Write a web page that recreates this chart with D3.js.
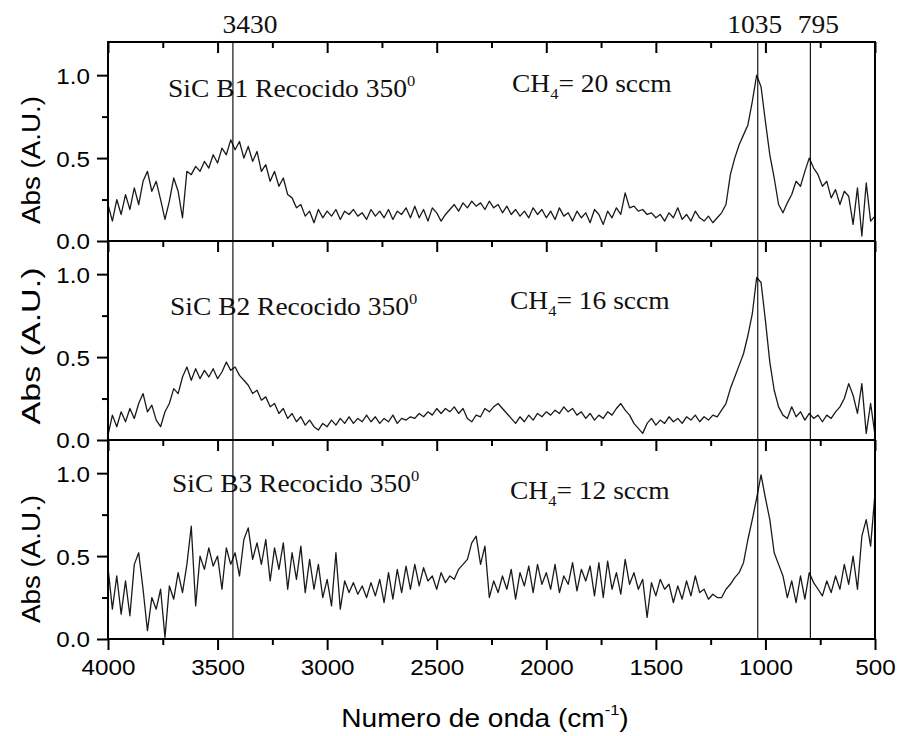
<!DOCTYPE html>
<html><head><meta charset="utf-8">
<script src="https://cdn.jsdelivr.net/npm/d3@7"></script>
<style>body{margin:0;background:#fff}</style>
</head><body>
<script>
// sampling grid of the spectra (cm^-1)
const wavenumbers = d3.range(4000, 499, -20);

const absB1 = [
0.22,0.12,0.25,0.16,0.28,0.19,0.32,0.22,0.36,0.42,
0.30,0.36,0.25,0.13,0.24,0.38,0.30,0.14,0.42,0.40,
0.45,0.42,0.48,0.44,0.52,0.47,0.56,0.52,0.61,0.55,
0.60,0.50,0.57,0.48,0.54,0.42,0.46,0.36,0.42,0.33,
0.38,0.28,0.26,0.20,0.22,0.15,0.18,0.11,0.19,0.14,
0.18,0.15,0.19,0.13,0.18,0.16,0.19,0.15,0.17,0.13,
0.19,0.15,0.18,0.14,0.19,0.13,0.18,0.16,0.20,0.14,
0.21,0.14,0.19,0.12,0.20,0.17,0.12,0.16,0.19,0.22,
0.18,0.23,0.20,0.24,0.21,0.23,0.19,0.24,0.20,0.22,
0.17,0.21,0.16,0.19,0.15,0.18,0.14,0.20,0.16,0.19,
0.14,0.18,0.13,0.20,0.15,0.17,0.12,0.18,0.14,0.17,
0.11,0.19,0.16,0.10,0.18,0.14,0.20,0.16,0.29,0.20,
0.21,0.18,0.19,0.16,0.17,0.14,0.16,0.12,0.17,0.14,
0.20,0.13,0.16,0.12,0.18,0.14,0.12,0.15,0.11,0.14,
0.17,0.22,0.40,0.50,0.58,0.64,0.70,0.84,1.00,0.93,
0.72,0.52,0.38,0.22,0.17,0.23,0.28,0.36,0.33,0.42,
0.50,0.44,0.40,0.33,0.36,0.26,0.31,0.22,0.30,0.27,
0.10,0.32,0.03,0.35,0.12,0.15];

const absB2 = [
0.03,0.15,0.08,0.17,0.11,0.19,0.13,0.22,0.28,0.17,
0.21,0.12,0.08,0.17,0.22,0.31,0.28,0.38,0.44,0.36,
0.43,0.37,0.42,0.38,0.43,0.37,0.41,0.47,0.42,0.44,
0.39,0.36,0.33,0.28,0.30,0.24,0.26,0.20,0.22,0.16,
0.19,0.13,0.16,0.11,0.14,0.09,0.12,0.08,0.06,0.10,
0.08,0.12,0.09,0.13,0.10,0.14,0.10,0.13,0.11,0.15,
0.11,0.14,0.10,0.13,0.11,0.15,0.10,0.13,0.12,0.14,
0.13,0.16,0.14,0.17,0.15,0.19,0.16,0.19,0.17,0.20,
0.16,0.19,0.13,0.11,0.15,0.14,0.19,0.17,0.20,0.22,
0.19,0.16,0.13,0.10,0.14,0.11,0.15,0.12,0.16,0.14,
0.17,0.15,0.18,0.16,0.20,0.17,0.19,0.15,0.17,0.13,
0.16,0.12,0.15,0.13,0.17,0.15,0.19,0.22,0.18,0.15,
0.10,0.07,0.04,0.10,0.13,0.09,0.12,0.10,0.14,0.11,
0.13,0.10,0.14,0.12,0.15,0.11,0.14,0.12,0.15,0.14,
0.18,0.22,0.31,0.38,0.45,0.52,0.63,0.76,0.98,0.95,
0.72,0.47,0.30,0.20,0.15,0.13,0.20,0.14,0.17,0.12,
0.16,0.13,0.15,0.11,0.15,0.13,0.17,0.20,0.25,0.34,
0.27,0.16,0.34,0.04,0.22,0.03];

const absB3 = [
0.43,0.18,0.38,0.15,0.35,0.14,0.45,0.52,0.30,0.05,
0.25,0.18,0.30,0.01,0.32,0.24,0.40,0.28,0.45,0.68,
0.20,0.50,0.42,0.55,0.44,0.50,0.30,0.55,0.45,0.52,
0.38,0.60,0.67,0.48,0.58,0.45,0.60,0.35,0.55,0.42,
0.58,0.30,0.52,0.36,0.56,0.28,0.48,0.30,0.45,0.25,
0.36,0.20,0.52,0.18,0.35,0.28,0.34,0.27,0.32,0.25,
0.34,0.26,0.36,0.22,0.40,0.24,0.42,0.28,0.44,0.30,
0.45,0.32,0.43,0.35,0.38,0.30,0.40,0.34,0.38,0.36,
0.42,0.45,0.48,0.58,0.62,0.45,0.56,0.25,0.35,0.28,
0.38,0.30,0.42,0.24,0.40,0.32,0.44,0.28,0.45,0.33,
0.40,0.30,0.45,0.28,0.38,0.33,0.46,0.29,0.42,0.35,
0.44,0.26,0.46,0.25,0.47,0.30,0.40,0.27,0.48,0.33,
0.40,0.30,0.36,0.13,0.34,0.26,0.36,0.30,0.33,0.22,
0.32,0.24,0.35,0.26,0.38,0.28,0.30,0.24,0.27,0.25,
0.25,0.30,0.33,0.37,0.40,0.46,0.60,0.72,0.85,0.99,
0.85,0.72,0.52,0.45,0.38,0.25,0.35,0.22,0.38,0.24,
0.40,0.34,0.30,0.26,0.35,0.28,0.38,0.30,0.45,0.33,
0.50,0.30,0.62,0.72,0.56,0.88];

const sampleNames = ["SiC B1 Recocido 350", "SiC B2 Recocido 350", "SiC B3 Recocido 350"];
const flowValues = ["20 sccm", "16 sccm", "12 sccm"];
const peakPositions = [3430, 1035, 795];
const peakLabels = ["3430", "1035", "795"];
const xMajorTicks = [4000, 3500, 3000, 2500, 2000, 1500, 1000, 500];
const xMinorTicks = [3750, 3250, 2750, 2250, 1750, 1250, 750];
const yMajorTicks = [0.0, 0.5, 1.0];
const yMinorTicks = [0.25, 0.75];
const xTitle = "Numero de onda (cm";
const yTitle = "Abs (A.U.)";

const series = [absB1, absB2, absB3];

// ---------- layout ----------
const W = 898, H = 736;
const left = 108, right = 875, top0 = 42, panelH = 199;
const SANS = "'Liberation Sans', Arial, Helvetica, sans-serif";
const SERIF = "'Liberation Serif', 'Times New Roman', Times, serif";
const SX = 1.1; // horizontal stretch of the original raster text

const svg = d3.select("body").append("svg").attr("width", W).attr("height", H);
svg.append("rect").attr("width", W).attr("height", H).attr("fill", "#fff");

const x = d3.scaleLinear().domain([4000, 500]).range([left, right]);
const ys = series.map((_, i) => d3.scaleLinear().domain([0, 1.2])
  .range([top0 + (i + 1) * panelH, top0 + i * panelH]));
const bottomY = top0 + 3 * panelH;

function styleTicks(g) {
  g.select(".domain").remove();
  g.selectAll(".tick line").attr("stroke", "#000").attr("stroke-width", 2);
}

series.forEach((vals, i) => {
  const y = ys[i];
  const g = svg.append("g");
  const pTop = top0 + i * panelH, pBot = top0 + (i + 1) * panelH;

  // curve
  const line = d3.line().x(d => x(d.w)).y(d => y(d.v));
  g.append("path")
    .datum(wavenumbers.map((w, j) => ({ w, v: vals[j] })))
    .attr("d", line).attr("fill", "none")
    .attr("stroke", "#1a1a1a").attr("stroke-width", 1.3).attr("stroke-linejoin", "round");

  // left axis
  const ay = g.append("g").attr("transform", `translate(${left},0)`)
    .call(d3.axisLeft(y).tickValues(yMajorTicks).tickSize(11).tickFormat(d3.format(".1f")));
  styleTicks(ay);
  ay.selectAll(".tick text")
    .attr("x", 0).attr("dy", "0.36em")
    .attr("transform", `translate(-18,0) scale(${SX},1)`)
    .attr("font-size", 22).attr("font-family", SANS).attr("fill", "#000");
  const aym = g.append("g").attr("transform", `translate(${left},0)`)
    .call(d3.axisLeft(y).tickValues(yMinorTicks).tickSize(6).tickFormat(""));
  styleTicks(aym);

  // bottom axis (outward ticks)
  const ax = g.append("g").attr("transform", `translate(0,${pBot})`)
    .call(d3.axisBottom(x).tickValues(xMajorTicks).tickSize(11)
      .tickFormat(i === 2 ? d3.format("d") : ""));
  styleTicks(ax);
  ax.selectAll(".tick text")
    .attr("y", 0).attr("dy", 0)
    .attr("transform", `translate(0,36) scale(${SX},1)`)
    .attr("font-size", 22).attr("font-family", SANS).attr("fill", "#000");
  const axm = g.append("g").attr("transform", `translate(0,${pBot})`)
    .call(d3.axisBottom(x).tickValues(xMinorTicks).tickSize(6).tickFormat(""));
  styleTicks(axm);

  if (i === 0) {
    const at = g.append("g").attr("transform", `translate(0,${pTop})`)
      .call(d3.axisTop(x).tickValues(xMajorTicks).tickSize(-11).tickFormat(""));
    styleTicks(at);
    const atm = g.append("g").attr("transform", `translate(0,${pTop})`)
      .call(d3.axisTop(x).tickValues(xMinorTicks).tickSize(-6).tickFormat(""));
    styleTicks(atm);
  }

  // frame
  g.append("rect").attr("x", left).attr("y", pTop)
    .attr("width", right - left).attr("height", pBot - pTop)
    .attr("fill", "none").attr("stroke", "#000").attr("stroke-width", 2);

  // y title
  const yCenters = [160, 346, 559];
  const yLens = [128, 157, 128];
  svg.append("text")
    .attr("transform", `translate(40,${yCenters[i]}) rotate(-90)`)
    .attr("text-anchor", "middle").attr("font-family", SANS).attr("font-size", 26)
    .attr("textLength", yLens[i]).attr("lengthAdjust", "spacingAndGlyphs")
    .text(yTitle);

  // sample annotation
  const nameX = [168, 170, 172], nameY = [97, 315, 492];
  const t1 = svg.append("text")
    .attr("transform", `translate(${nameX[i]},${nameY[i]}) scale(${SX},1)`)
    .attr("font-family", SERIF).attr("font-size", 25).attr("fill", "#111");
  t1.append("tspan").text(sampleNames[i]);
  t1.append("tspan").attr("font-size", 15).attr("dy", -11).text("0");

  const flowX = [512, 510, 510], flowY = [92, 309, 499];
  const t2 = svg.append("text")
    .attr("transform", `translate(${flowX[i]},${flowY[i]}) scale(${SX},1)`)
    .attr("font-family", SERIF).attr("font-size", 25).attr("fill", "#111");
  t2.append("tspan").text("CH");
  t2.append("tspan").attr("font-size", 15).attr("dy", 7).text("4");
  t2.append("tspan").attr("dy", -7).text("= " + flowValues[i]);
});

// vertical peak lines + labels
const labelOffsets = [17, -3, 8];
peakPositions.forEach((w, k) => {
  svg.append("line")
    .attr("x1", x(w)).attr("x2", x(w)).attr("y1", top0).attr("y2", bottomY)
    .attr("stroke", "#000").attr("stroke-width", 1.1);
  svg.append("text")
    .attr("transform", `translate(${x(w) + labelOffsets[k]},33) scale(${SX},1)`)
    .attr("text-anchor", "middle").attr("font-family", SERIF).attr("font-size", 25)
    .attr("fill", "#111").text(peakLabels[k]);
});

// x title
const xt = svg.append("text")
  .attr("transform", `translate(485,727) scale(${SX},1)`)
  .attr("text-anchor", "middle").attr("font-family", SANS).attr("font-size", 25.5);
xt.append("tspan").text(xTitle);
xt.append("tspan").attr("font-size", 15).attr("dy", -12).text("-1");
xt.append("tspan").attr("dy", 12).text(")");
</script>
</body></html>
